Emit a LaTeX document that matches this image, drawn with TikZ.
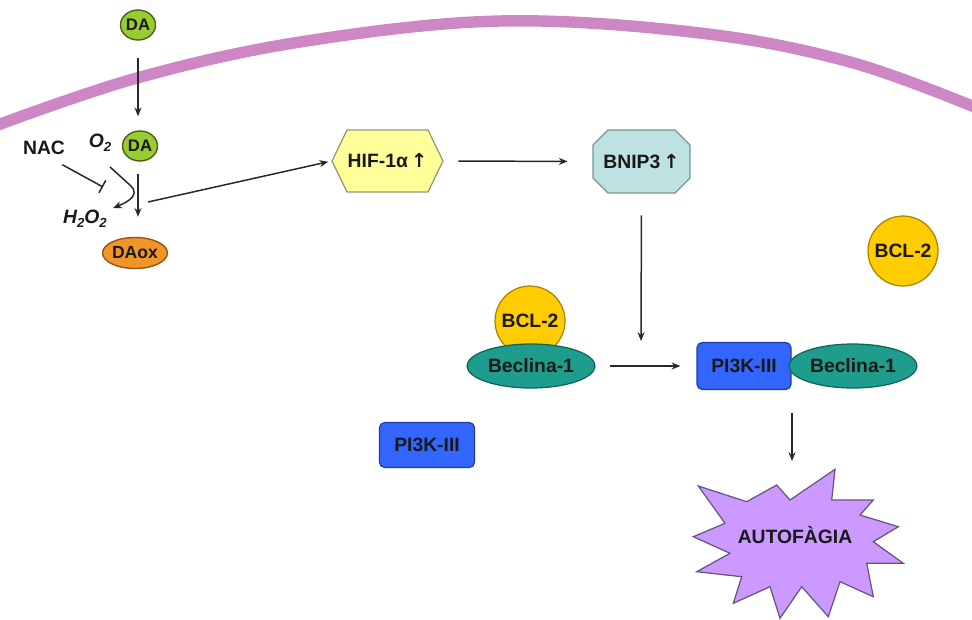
\documentclass[tikz,border=0pt]{standalone}
\usepackage{fontspec}
\setmainfont{Liberation Sans}
\newfontfamily\symfont{DejaVu Sans}
\usetikzlibrary{arrows.meta,shapes.geometric}
\definecolor{membr}{RGB}{205,135,196}
\definecolor{dagreen}{RGB}{153,204,51}
\definecolor{dagreenD}{RGB}{70,100,20}
\definecolor{daox}{RGB}{240,150,40}
\definecolor{daoxD}{RGB}{150,85,15}
\definecolor{hifc}{RGB}{255,255,153}
\definecolor{hifD}{RGB}{150,150,110}
\definecolor{bnipc}{RGB}{190,225,225}
\definecolor{bnipD}{RGB}{115,150,150}
\definecolor{bclc}{RGB}{255,204,0}
\definecolor{bclD}{RGB}{170,130,0}
\definecolor{becc}{RGB}{30,156,140}
\definecolor{becD}{RGB}{15,100,90}
\definecolor{pic}{RGB}{51,102,255}
\definecolor{piD}{RGB}{30,60,160}
\definecolor{starc}{RGB}{204,153,255}
\definecolor{starD}{RGB}{100,85,130}
\definecolor{txtc}{RGB}{25,25,25}
\definecolor{linec}{RGB}{40,40,40}
\begin{document}
\begin{tikzpicture}[x=0.02cm,y=-0.02cm,
  lbl/.style={font=\fontsize{11}{13}\selectfont\bfseries, text=txtc, inner sep=0pt},
  arr/.style={draw=linec, line width=0.85pt, -{Stealth[length=5pt,width=4pt]}},
  inh/.style={draw=linec, line width=0.85pt, -{Bar[width=8pt]}},
  dast/.style={ellipse, fill=dagreen, draw=dagreenD, line width=0.8pt, minimum width=0.7cm, minimum height=0.6cm, inner sep=0pt, font=\fontsize{9.5}{11}\selectfont\bfseries, text=txtc},
  daoxst/.style={ellipse, fill=daox, draw=daoxD, line width=0.8pt, minimum width=1.22cm, minimum height=0.62cm, inner sep=0pt, font=\fontsize{10}{12}\selectfont\bfseries, text=txtc},
  bclst/.style={circle, fill=bclc, draw=bclD, line width=0.7pt, minimum size=1.4cm, inner sep=0pt, lbl},
  becst/.style={ellipse, fill=becc, draw=becD, line width=0.7pt, minimum width=2.56cm, minimum height=0.88cm, inner sep=0pt, lbl},
  pist/.style={rectangle, rounded corners=3pt, fill=pic, draw=piD, line width=0.7pt, minimum width=1.88cm, minimum height=0.94cm, inner sep=0pt, lbl},
  hexst/.style={fill=hifc, draw=hifD, line width=0.7pt},
  octst/.style={fill=bnipc, draw=bnipD, line width=0.7pt},
  starst/.style={fill=starc, draw=starD, line width=0.7pt, line join=miter}
]
\useasboundingbox (0,0) rectangle (972,619);

% membrane
\draw[membr, line width=6.5pt] plot[smooth, tension=0.6] coordinates {(-5,126) (137,78) (300,42) (500,21) (700,33) (850,62) (977,108)};

% dopamine part
\node[dast] (da1) at (138,25) {DA};
\node[dast] (da2) at (140,146) {DA};
\node[daoxst] (daox) at (135,253) {DAox};
\node[lbl] (nac) at (44,148) {NAC};
\node[lbl] (o2) at (100,143) {\itshape O\raisebox{-0.35ex}{\fontsize{7.5}{8}\selectfont 2}};
\node[lbl] (h2o2) at (85,219) {\itshape H\raisebox{-0.35ex}{\fontsize{7.5}{8}\selectfont 2}O\raisebox{-0.35ex}{\fontsize{7.5}{8}\selectfont 2}};

\draw[arr, shorten <=0.34cm, shorten >=0.28cm] (da1) -- (da1 |- da2.north);
\draw[arr, shorten <=0.24cm, shorten >=0.4cm] (da2.south -| 138,0) -- (138,0 |- daox.north);

\coordinate (r1) at (110,167);
\coordinate (rt) at (113,208);
\draw[arr] (r1) -- (131,186) .. controls (140,195) and (128,202) .. (rt);
\coordinate (tb) at (103,187);
\draw[inh] ([xshift=-0.06cm,yshift=-0.19cm]nac.south east) -- (tb);

% HIF hexagon
\filldraw[hexst] (332,161) -- (347,130) -- (428,130) -- (443,161) -- (428,192) -- (347,192) -- cycle;
\node[lbl, minimum width=2.22cm, minimum height=1.24cm] (hif) at (387.5,161) {HIF-1α\,{\symfont\bfseries↑}};
\coordinate (hs) at (148,202);
\draw[arr, shorten >=2pt] (hs) -- (hif.west);

% BNIP3 octagon
\filldraw[octst] (593,145) -- (608,130) -- (675,130) -- (690,145) -- (690,178) -- (675,193) -- (608,193) -- (593,178) -- cycle;
\node[lbl, minimum width=1.94cm, minimum height=1.26cm] (bnip) at (641.5,161.5) {BNIP3\,{\symfont\bfseries↑}};
\draw[arr, shorten <=0.3cm, shorten >=0.5cm] (hif.east) -- (bnip.west);

\coordinate (bend) at (641,341);
\draw[arr, shorten <=0.44cm] (bnip.south) -- (bend);

% BCL-2 / Beclina complex
\node[bclst] (bcl1) at (530,321) {BCL-2};
\node[becst] (bec1) at (531,366) {Beclina-1};
\node[bclst] (bcl2) at (903,251) {BCL-2};

\node[pist] (pi1) at (744,366) {PI3K-III};
\node[becst] (bec2) at (853,366) {Beclina-1};
\draw[arr, shorten <=0.28cm, shorten >=0.32cm] (bec1.east) -- (pi1.west);

\node[pist, minimum width=1.9cm, minimum height=0.9cm] (pi2) at (427,445) {PI3K-III};

% autophagy star
\filldraw[starst] (698.3,486) -- (746.7,501.7) -- (776.7,485) -- (790,500) -- (835,469.3) -- (831.7,500) -- (873.3,500) -- (860,515) -- (898.3,526.7) -- (873.3,541.7) -- (903.3,563.3) -- (866.7,563.3) -- (873.3,596.7) -- (840,581.7) -- (828.3,616.7) -- (801.7,586.7) -- (780,618.3) -- (770,586.7) -- (733.3,603.3) -- (741.7,576.7) -- (696.7,571.7) -- (730,553.3) -- (693.3,536.7) -- (725,523.3) -- cycle;
\node[lbl] (auto) at (795,535) {AUTOFÀGIA};
\coordinate (c1) at (792,413);
\coordinate (c2) at (792,461);
\draw[arr] (c1) -- (c2);
\end{tikzpicture}
\end{document}
